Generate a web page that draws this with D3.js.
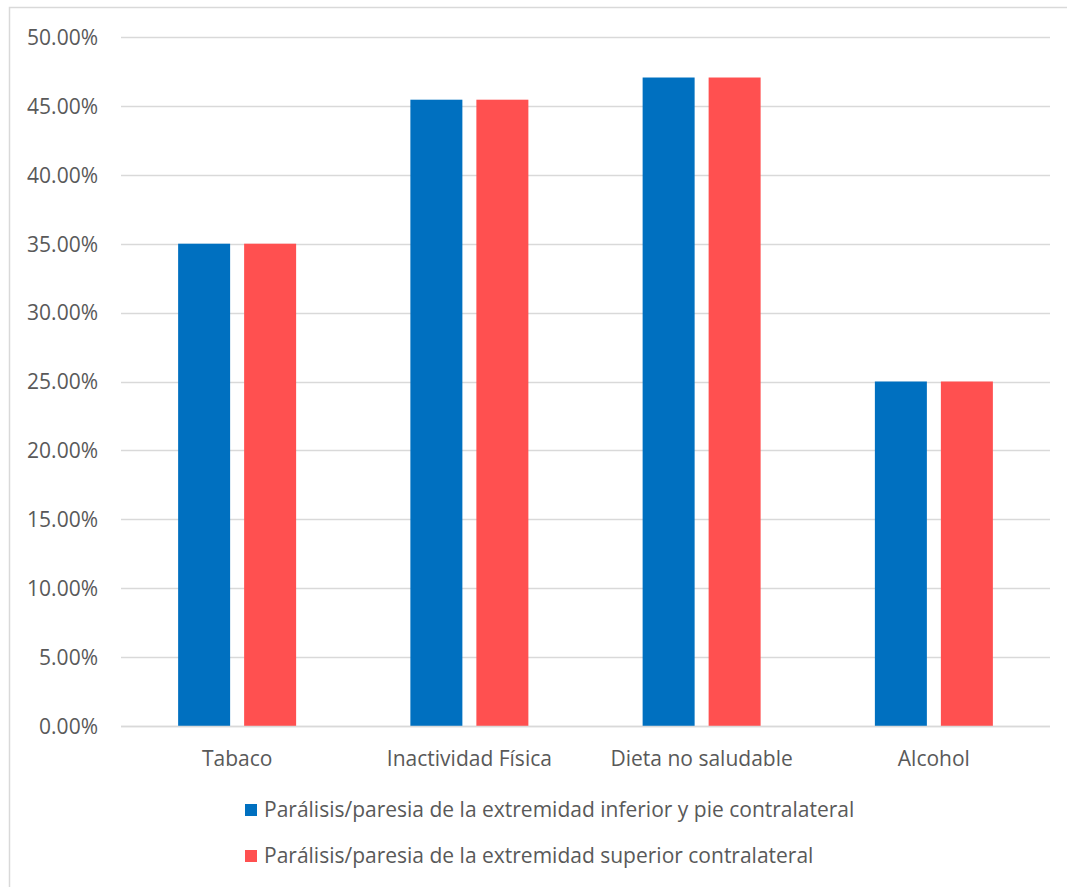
<!DOCTYPE html>
<html>
<head>
<meta charset="utf-8">
<script src="https://cdn.jsdelivr.net/npm/d3@7/dist/d3.min.js"></script>
<style>
  html, body { margin: 0; padding: 0; background: #fff; }
  svg { display: block; }
  text { font-family: "Open Sans", "Noto Sans", sans-serif; fill: #595959; }
</style>
</head>
<body>
<svg id="chart" width="1067" height="887"></svg>
<script>
// Risk factors by type of motor deficit
const categories = ["Tabaco", "Inactividad Física", "Dieta no saludable", "Alcohol"];
const seriesNames = [
  "Parálisis/paresia de la extremidad inferior y pie contralateral",
  "Parálisis/paresia de la extremidad superior contralateral"
];
const inferiorValues = [0.35, 0.4545, 0.4706, 0.25];
const superiorValues = [0.35, 0.4545, 0.4706, 0.25];
const yTicks = [0, 0.05, 0.10, 0.15, 0.20, 0.25, 0.30, 0.35, 0.40, 0.45, 0.50];
const colors = ["#0070C0", "#FF5050"];

const svg = d3.select("#chart");
const W = 1067, H = 887;
const FS = 21;

// chart-area frame
svg.append("rect")
  .attr("x", 9.5).attr("y", 7.5)
  .attr("width", W).attr("height", H)
  .attr("fill", "#fff").attr("stroke", "#D9D9D9").attr("stroke-width", 1.5);

const plot = { left: 121, right: 1050, top: 37, bottom: 726 };

const x0 = d3.scaleBand()
  .domain(categories)
  .range([plot.left, plot.right])
  .paddingInner(0).paddingOuter(0);

const groupWidth = 118;
const x1 = d3.scaleBand()
  .domain([0, 1])
  .range([0, groupWidth])
  .paddingInner(14 / 66);

const y = d3.scaleLinear().domain([0, 0.5]).range([plot.bottom, plot.top]);

// gridlines
svg.append("g")
  .selectAll("line")
  .data(yTicks)
  .join("line")
  .attr("x1", plot.left).attr("x2", plot.right)
  .attr("y1", d => Math.round(y(d)) + 0.5).attr("y2", d => Math.round(y(d)) + 0.5)
  .attr("stroke", "#D9D9D9").attr("stroke-width", 1.5);

// y axis labels
const yAxis = d3.axisLeft(y).tickValues(yTicks)
  .tickFormat(d => d3.format(".2f")(d * 100) + "%")
  .tickSize(0).tickPadding(0);
const gy = svg.append("g").attr("transform", `translate(98,0)`).call(yAxis);
gy.select(".domain").remove();
gy.selectAll("text")
  .attr("font-size", FS).attr("font-family", null).attr("fill", "#595959")
  .attr("dy", "0.35em");

// bars
const data = categories.map((c, i) => ({ cat: c, vals: [inferiorValues[i], superiorValues[i]] }));
const groups = svg.append("g")
  .selectAll("g")
  .data(data)
  .join("g")
  .attr("transform", d => `translate(${x0(d.cat) + (x0.bandwidth() - groupWidth) / 2},0)`);

groups.selectAll("rect")
  .data(d => d.vals.map((v, k) => ({ v, k })))
  .join("rect")
  .attr("x", d => x1(d.k))
  .attr("width", x1.bandwidth())
  .attr("y", d => y(d.v))
  .attr("height", d => y(0) - y(d.v))
  .attr("fill", d => colors[d.k]);

// baseline
svg.append("line")
  .attr("x1", plot.left).attr("x2", plot.right)
  .attr("y1", plot.bottom + 0.5).attr("y2", plot.bottom + 0.5)
  .attr("stroke", "#D9D9D9").attr("stroke-width", 1.5);

// x axis labels
const xAxis = d3.axisBottom(x0).tickSize(0).tickPadding(0);
const gx = svg.append("g").attr("transform", `translate(0,${plot.bottom})`).call(xAxis);
gx.select(".domain").remove();
gx.selectAll("text")
  .attr("font-size", FS).attr("font-family", null).attr("fill", "#595959")
  .attr("y", 33).attr("dy", "0.35em");

// legend
const legend = svg.append("g")
  .selectAll("g")
  .data(seriesNames)
  .join("g")
  .attr("transform", (d, i) => `translate(245,${810 + i * 46})`);
legend.append("rect")
  .attr("x", 0).attr("y", -6).attr("width", 12).attr("height", 12)
  .attr("fill", (d, i) => colors[i]);
legend.append("text")
  .attr("x", 19).attr("y", 0).attr("dy", "0.35em")
  .attr("font-size", FS)
  .text(d => d);
</script>
</body>
</html>
